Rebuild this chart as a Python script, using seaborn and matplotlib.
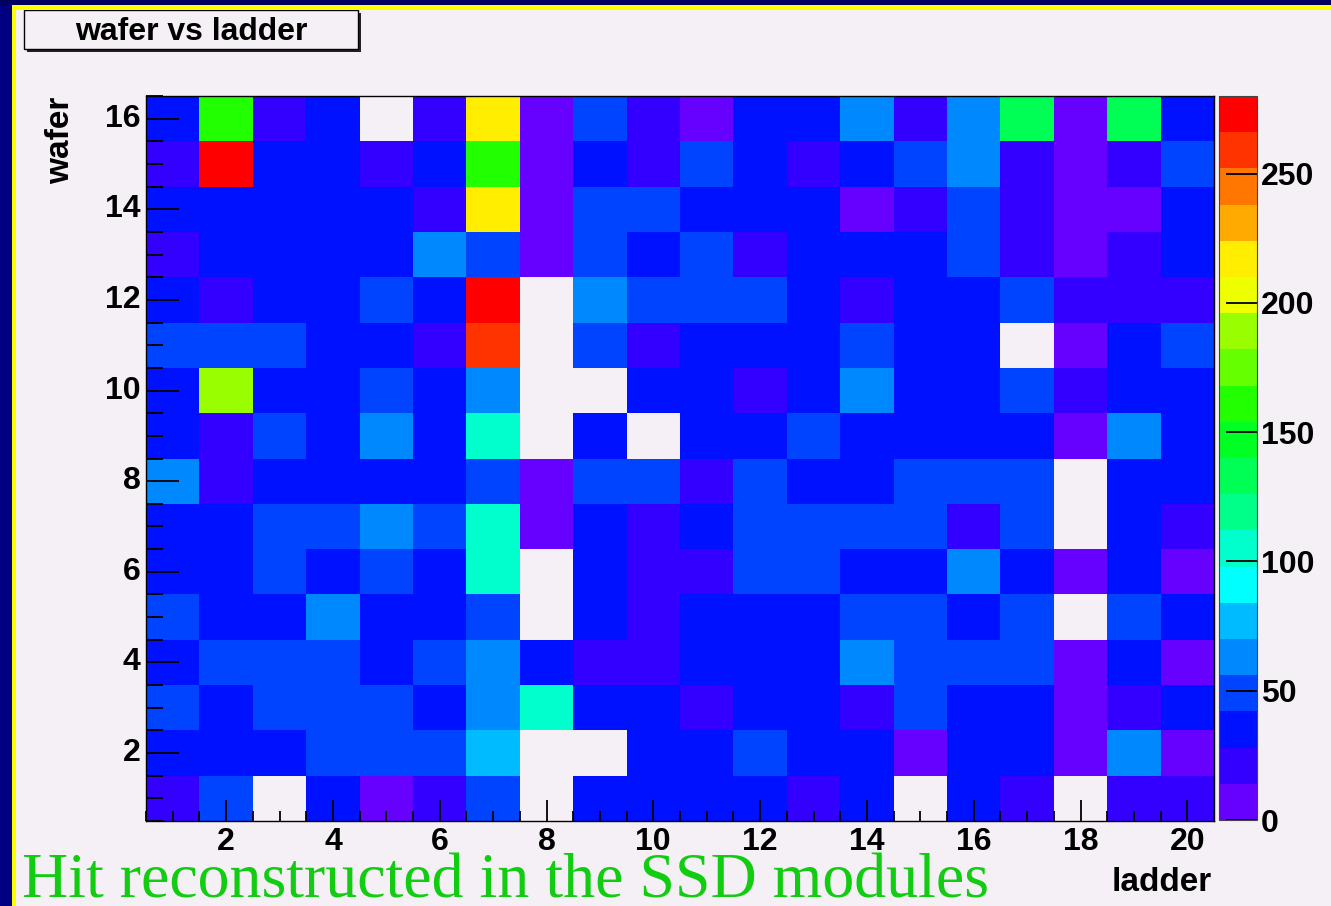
import numpy as np
import pandas as pd
import matplotlib
matplotlib.use("Agg")
import matplotlib.pyplot as plt
from matplotlib.colors import ListedColormap
from matplotlib.patches import Rectangle
import seaborn as sns

# ladder (x) and wafer (y); rows listed top (wafer 16) to bottom (wafer 1)
ladders = list(range(1, 21))
wafers = list(range(16, 0, -1))

# hits per module, 0 = empty bin (not drawn)
hits = [
    [36, 161, 22, 36, 0, 22, 217, 8, 50, 22, 8, 36, 36, 63, 22, 63, 133, 8, 133, 36],
    [22, 273, 36, 36, 22, 36, 161, 8, 36, 22, 50, 36, 22, 36, 50, 63, 22, 8, 22, 50],
    [36, 36, 36, 36, 36, 22, 217, 8, 50, 50, 36, 36, 36, 8, 22, 50, 22, 8, 8, 36],
    [22, 36, 36, 36, 36, 63, 50, 8, 50, 36, 50, 22, 36, 36, 36, 50, 22, 8, 22, 36],
    [36, 22, 36, 36, 50, 36, 273, 0, 63, 50, 50, 50, 36, 22, 36, 36, 50, 22, 22, 22],
    [50, 50, 50, 36, 36, 22, 259, 0, 50, 22, 36, 36, 36, 50, 36, 36, 0, 8, 36, 50],
    [36, 189, 36, 36, 50, 36, 63, 0, 0, 36, 36, 22, 36, 63, 36, 36, 50, 22, 36, 36],
    [36, 22, 50, 36, 63, 36, 105, 0, 36, 0, 36, 36, 50, 36, 36, 36, 36, 8, 63, 36],
    [63, 22, 36, 36, 36, 36, 50, 8, 50, 50, 22, 50, 36, 36, 50, 50, 50, 0, 36, 36],
    [36, 36, 50, 50, 63, 50, 105, 8, 36, 22, 36, 50, 50, 50, 50, 22, 50, 0, 36, 22],
    [36, 36, 50, 36, 50, 36, 105, 0, 36, 22, 22, 50, 50, 36, 36, 63, 36, 8, 36, 8],
    [50, 36, 36, 63, 36, 36, 50, 0, 36, 22, 36, 36, 36, 50, 50, 36, 50, 0, 50, 36],
    [36, 50, 50, 50, 36, 50, 63, 36, 22, 22, 36, 36, 36, 63, 50, 50, 50, 8, 36, 8],
    [50, 36, 50, 50, 50, 36, 63, 105, 36, 36, 22, 36, 36, 22, 50, 36, 36, 8, 22, 36],
    [36, 36, 36, 50, 50, 50, 78, 0, 0, 36, 36, 50, 36, 36, 8, 36, 36, 8, 63, 8],
    [22, 50, 0, 36, 8, 22, 50, 0, 36, 36, 36, 36, 22, 36, 0, 36, 22, 0, 22, 22],
]

# ROOT style rainbow palette, 20 contour levels 0..280
palette = ["#6600ff", "#3300ff", "#0011ff", "#0044ff", "#0088ff",
           "#00bbff", "#00ffff", "#00ffcc", "#00ff88", "#00ff55",
           "#00ff22", "#22ff00", "#66ff00", "#99ff00", "#eeff00",
           "#ffee00", "#ffaa00", "#ff7700", "#ff3300", "#ff0000"]
zmax = 280
cbar_ticks = [0, 50, 100, 150, 200, 250]
x_major = [2, 4, 6, 8, 10, 12, 14, 16, 18, 20]
y_major = [2, 4, 6, 8, 10, 12, 14, 16]

plt.rcParams["font.family"] = ["Liberation Sans", "DejaVu Sans"]
plt.rcParams["font.weight"] = "bold"

df = pd.DataFrame(hits, index=wafers, columns=ladders)

W, H = 1331, 906
bg = "#f5f0f5"
fig = plt.figure(figsize=(W / 100, H / 100), dpi=100, facecolor=bg)


def box(x0, y0, x1, y1):
    # pixel box (top-left origin) -> figure fraction rect
    return [x0 / W, 1 - y1 / H, (x1 - x0) / W, (y1 - y0) / H]


ax = fig.add_axes(box(146, 96, 1214, 821))
cax = fig.add_axes(box(1219, 96, 1257, 820))
ax.set_facecolor(bg)

sns.heatmap(df, ax=ax, cbar_ax=cax, cmap=ListedColormap(palette),
            vmin=0, vmax=zmax, mask=(df == 0),
            cbar_kws={"ticks": cbar_ticks})

# x axis: heatmap column i is centred on i + 0.5
ax.set_xticks([l - 0.5 for l in x_major])
ax.set_xticklabels([str(l) for l in x_major], rotation=0)
ax.set_xticks(np.arange(0, len(ladders) + 0.01, 0.5), minor=True)
ax.set_yticks([16.5 - w for w in y_major])
ax.set_yticklabels([str(w) for w in y_major], rotation=0)
ax.set_yticks(np.arange(0, len(wafers) + 0.01, 0.5), minor=True)
ax.set_xlabel("")
ax.set_ylabel("")

ax.tick_params(axis="x", which="major", direction="in", length=15, width=1.3,
               labelsize=23, pad=4, bottom=True, top=False, color="black")
ax.tick_params(axis="x", which="minor", direction="in", length=7.5, width=1.3,
               bottom=True, top=False, color="black")
ax.tick_params(axis="y", which="major", direction="in", length=24, width=1.3,
               labelsize=23, pad=4, left=True, right=False, color="black")
ax.tick_params(axis="y", which="minor", direction="in", length=12, width=1.3,
               left=True, right=False, color="black")
for s in ax.spines.values():
    s.set_visible(True)
    s.set_color("black")
    s.set_linewidth(1.0)

# colour scale
cax.yaxis.set_ticks_position("right")
cax.tick_params(axis="y", direction="in", length=22, width=1.3, labelsize=23,
                pad=3, color="black")
cbar = ax.collections[0].colorbar
cbar.outline.set_linewidth(0.8)
cbar.outline.set_edgecolor("#444444")

# axis titles
fig.text(61 / W, 1 - 97 / H, "wafer", rotation=90, ha="center", va="top",
         fontsize=24, fontweight="bold")
fig.text(1212 / W, 1 - 891 / H, "ladder", ha="right", va="baseline",
         fontsize=24, fontweight="bold")

# title box with shadow
fig.add_artist(Rectangle((27 / W, 1 - 52 / H), 334 / W, 39 / H,
                         transform=fig.transFigure, facecolor="#222222",
                         edgecolor="none"))
fig.add_artist(Rectangle((24 / W, 1 - 49 / H), 334 / W, 39 / H,
                         transform=fig.transFigure, facecolor=bg,
                         edgecolor="black", linewidth=1.0))
fig.text(191 / W, 1 - 40 / H, "wafer vs ladder", ha="center", va="baseline",
         fontsize=23, fontweight="bold")

# slide caption
fig.text(22 / W, 1 - 897 / H, "Hit reconstructed in the SSD modules",
         ha="left", va="baseline", fontsize=46, fontweight="normal",
         family=["Liberation Serif", "DejaVu Serif"], color="#11cc11")

# slide frame (navy + yellow)
fig.add_artist(Rectangle((0, 0), 12 / W, 1, transform=fig.transFigure,
                         facecolor="#000080", edgecolor="none"))
fig.add_artist(Rectangle((0, 1 - 5 / H), 1, 5 / H, transform=fig.transFigure,
                         facecolor="#000060", edgecolor="none"))
fig.add_artist(Rectangle((12 / W, 0), 4 / W, 1 - 5 / H, transform=fig.transFigure,
                         facecolor="#ffff00", edgecolor="none"))
fig.add_artist(Rectangle((12 / W, 1 - 10 / H), 1, 5 / H, transform=fig.transFigure,
                         facecolor="#ffff00", edgecolor="none"))

fig.savefig("out.png", dpi=100, facecolor=bg)
